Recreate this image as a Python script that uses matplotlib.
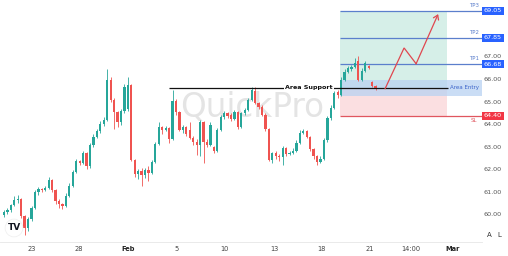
import matplotlib
matplotlib.use("Agg")
import matplotlib.pyplot as plt
import matplotlib.transforms as mtransforms
from matplotlib.patches import Rectangle, FancyArrowPatch

# ---------------- data ----------------
opens = [60.00, 60.13, 60.22, 60.44, 60.66, 60.70, 59.95, 59.40, 59.80, 60.30,
         61.00, 61.15, 61.10, 61.20, 61.55, 61.10, 60.60, 60.50, 60.40, 60.85,
         61.30, 61.90, 62.40, 62.30, 62.75, 62.15, 63.10, 63.45, 63.70, 64.05,
         64.20, 66.00, 65.10, 64.55, 64.10, 64.60, 64.70, 65.75, 62.45, 61.80,
         61.95, 61.75, 62.00, 61.85, 62.35, 63.15, 63.90, 63.75, 63.85, 63.35,
         65.05, 64.55, 63.75, 63.90, 63.75, 63.40, 63.25, 63.10, 64.10, 63.25,
         63.10, 63.00, 62.85, 63.75, 64.35, 64.50, 64.45, 64.25, 64.55, 63.90,
         64.50, 64.65, 65.10, 65.50, 64.95, 64.80, 64.45, 63.80, 62.45, 62.75,
         62.60, 62.55, 62.95, 62.70, 62.75, 62.85, 63.20, 63.65, 63.70, 63.45,
         62.90, 62.60, 62.35, 62.50, 63.30, 64.30, 64.75, 65.45, 65.30, 66.00,
         66.35, 66.45, 66.55, 66.80, 66.00, 66.40, 66.60, 65.90, 65.70]
closes = [60.13, 60.22, 60.44, 60.66, 60.70, 59.95, 59.40, 59.80, 60.30, 61.00,
          61.15, 61.10, 61.20, 61.55, 61.10, 60.60, 60.50, 60.40, 60.85, 61.30,
          61.90, 62.40, 62.30, 62.75, 62.15, 63.10, 63.45, 63.70, 64.05, 64.20,
          66.00, 65.10, 64.55, 64.10, 64.60, 65.65, 65.75, 62.45, 61.80, 61.95,
          61.75, 62.00, 61.85, 62.35, 63.15, 63.90, 63.75, 63.85, 63.35, 65.05,
          64.55, 63.75, 63.90, 63.60, 63.40, 63.25, 63.10, 64.10, 63.25, 63.10,
          64.00, 62.85, 63.75, 64.35, 64.50, 64.40, 64.25, 64.55, 63.90, 64.50,
          64.65, 65.10, 65.55, 64.95, 64.80, 64.45, 63.80, 62.45, 62.75, 62.60,
          62.55, 62.95, 62.70, 62.75, 62.85, 63.20, 63.65, 63.70, 63.45, 62.90,
          62.60, 62.35, 62.50, 63.30, 64.30, 64.75, 65.40, 65.30, 66.00, 66.35,
          66.50, 66.55, 66.75, 66.00, 66.40, 66.75, 66.50, 65.70, 65.60]
highs = [60.20, 60.30, 60.50, 60.85, 60.90, 60.75, 60.00, 59.90, 60.40, 61.10,
         61.25, 61.20, 61.30, 61.70, 61.60, 61.15, 60.70, 60.55, 60.95, 61.40,
         62.00, 62.50, 62.45, 62.85, 62.80, 63.20, 63.60, 63.80, 64.15, 64.35,
         66.45, 66.10, 65.20, 64.60, 64.70, 65.80, 66.10, 65.80, 62.50, 62.05,
         62.10, 62.10, 62.15, 62.45, 63.25, 64.10, 63.95, 63.95, 63.90, 65.55,
         65.15, 64.60, 64.00, 63.95, 64.10, 63.50, 63.35, 64.20, 64.15, 63.35,
         64.10, 63.05, 63.85, 64.45, 64.60, 64.55, 64.50, 64.65, 64.60, 64.55,
         64.75, 65.20, 65.65, 65.65, 65.00, 64.85, 64.50, 63.85, 62.80, 62.85,
         62.70, 63.05, 63.00, 62.85, 62.95, 63.30, 63.75, 63.80, 63.75, 63.50,
         62.95, 62.65, 62.60, 63.40, 64.40, 64.85, 65.50, 65.55, 66.10, 66.45,
         66.60, 66.65, 66.95, 67.05, 66.50, 66.80, 66.65, 65.95, 65.75]
lows = [59.90, 60.05, 60.15, 60.40, 60.55, 59.85, 59.10, 59.30, 59.75, 60.25,
        60.90, 61.00, 61.05, 61.15, 61.00, 60.50, 60.30, 60.25, 60.35, 60.80,
        61.25, 61.85, 62.20, 62.25, 62.05, 62.10, 63.00, 63.40, 63.65, 63.95,
        64.15, 65.00, 63.80, 63.90, 64.00, 64.50, 64.60, 62.40, 61.70, 61.60,
        61.30, 61.65, 61.50, 61.80, 62.30, 63.10, 63.60, 63.70, 63.20, 63.30,
        64.45, 63.70, 63.65, 63.50, 63.35, 63.10, 62.65, 62.60, 62.30, 63.00,
        63.05, 62.75, 62.80, 63.70, 64.25, 64.30, 64.15, 64.20, 63.80, 63.85,
        64.45, 64.60, 65.05, 64.90, 64.70, 64.40, 63.70, 62.40, 62.30, 62.50,
        62.40, 62.20, 62.60, 62.65, 62.70, 62.80, 63.15, 63.60, 63.40, 62.85,
        62.50, 62.20, 62.30, 62.45, 63.25, 64.20, 64.70, 65.20, 65.25, 65.95,
        66.30, 66.40, 66.50, 65.95, 65.95, 66.35, 66.45, 65.65, 65.55]

tick_pos = [8.1, 21.8, 36.0, 50.3, 64.2, 78.5, 92.4, 106.4, 118.3, 130.5]
tick_labels = ["23", "28", "Feb", "5", "10", "13", "18", "21", "14:00", "Mar"]
bold_ticks = ["Feb", "Mar"]
price_ticks = [60, 61, 62, 63, 64, 65, 66, 67]

support_level = 65.63
support_span = [48.0, 129.0]
entry_band = [65.27, 65.98]
position_span = [97.7, 128.8]
tp_levels = [66.68, 67.85, 69.05]
tp_names = ["TP1", "TP2", "TP3"]
sl_level = 64.40
arrow_x = [110.8, 116.3, 119.8, 126.2]
arrow_y = [65.60, 67.40, 66.70, 68.90]

UP = "#26a69a"
DOWN = "#ef5350"
BLUE_LINE = "#5b7fcc"
BLUE_BOX = "#2962ff"
RED_BOX = "#f23645"

# ---------------- figure ----------------
fig = plt.figure(figsize=(5.08, 2.56), dpi=100)
ax = fig.add_axes([0, 14/256, 482/508, 242/256])
XMAX = 138.95
ax.set_xlim(-1.16, XMAX)
ax.set_ylim(58.80, 69.525)

# watermark
ax.text(72, 64.78, "QuickPro", fontsize=23.5, color="#e4e4e4", ha="center",
        va="center", zorder=0, family="DejaVu Sans")

# position tool boxes
x0, x1 = position_span
ax.add_patch(Rectangle((x0, support_level), x1 - x0, tp_levels[-1] - support_level,
                       facecolor="#d6efe8", edgecolor="none", zorder=1))
ax.add_patch(Rectangle((x0, sl_level), x1 - x0, support_level - sl_level,
                       facecolor="#fbdfe1", edgecolor="none", zorder=1))
ax.add_patch(Rectangle((x0, entry_band[0]), XMAX - x0, entry_band[1] - entry_band[0],
                       facecolor="#b9d2f2", alpha=0.75, edgecolor="none", zorder=1.5))

# candles
for i, (o, c, h, l) in enumerate(zip(opens, closes, highs, lows)):
    col = UP if c >= o else DOWN
    ax.vlines(i, l, h, color=col, lw=0.6, zorder=3)
    bot = min(o, c)
    ht = max(abs(c - o), 0.03)
    ax.add_patch(Rectangle((i - 0.33, bot), 0.66, ht, facecolor=col,
                           edgecolor="none", zorder=3))

# TP / SL lines
for lvl, name in zip(tp_levels, tp_names):
    ax.hlines(lvl, x0, XMAX, color=BLUE_LINE, lw=0.9, zorder=2)
    ax.text(138.2, lvl + 0.12, name, fontsize=4.0, color=BLUE_LINE,
            ha="right", va="bottom", zorder=4)
ax.hlines(sl_level, x0, XMAX, color="#e0565f", lw=0.9, zorder=2)
ax.text(137.6, sl_level - 0.12, "SL", fontsize=4.0, color="#e0565f",
        ha="right", va="top", zorder=4)

# support line + label
ax.hlines(support_level, support_span[0], support_span[1], color="#111111",
          lw=0.9, zorder=4)
ax.text(88.7, support_level, "Area Support", fontsize=4.6, fontweight="bold",
        color="#111111", ha="center", va="center", zorder=5,
        bbox=dict(facecolor="white", edgecolor="none", pad=0.6))
ax.text(138.2, sum(entry_band) / 2, "Area Entry", fontsize=4.0, color="#3b63c9",
        ha="right", va="center", zorder=5)

# arrow
ax.plot(arrow_x[:-1], arrow_y[:-1], color="#e0474f", lw=0.9, zorder=5,
        solid_joinstyle="miter")
ax.add_patch(FancyArrowPatch((arrow_x[-2], arrow_y[-2]), (arrow_x[-1], arrow_y[-1]),
                             arrowstyle="->,head_length=3,head_width=2",
                             color="#e0474f", lw=0.9, zorder=5,
                             shrinkA=0, shrinkB=0))

# axes styling
for s in ["top", "left", "right"]:
    ax.spines[s].set_visible(False)
ax.spines["bottom"].set_color("#e6e6e6")
ax.spines["bottom"].set_linewidth(0.6)
ax.set_xticks(tick_pos)
ax.set_xticklabels(tick_labels, fontsize=4.8, color="#444444")
for lab in ax.get_xticklabels():
    if lab.get_text() in bold_ticks:
        lab.set_fontweight("bold")
        lab.set_color("#222222")
ax.tick_params(axis="x", length=0, pad=3)
ax.set_yticks([])

# price scale labels
trans = mtransforms.blended_transform_factory(fig.transFigure, ax.transData)
for p in price_ticks:
    ax.text(493/508, p, f"{p:.2f}", fontsize=4.6, color="#555555",
            ha="center", va="center", transform=trans, clip_on=False)
for lvl in tp_levels:
    ax.text(493/508, lvl, f"{lvl:.2f}", fontsize=4.6, color="white",
            ha="center", va="center", transform=trans, clip_on=False, zorder=6,
            bbox=dict(facecolor=BLUE_BOX, edgecolor="none",
                      boxstyle="square,pad=0.25"))
ax.text(493/508, sl_level, f"{sl_level:.2f}", fontsize=4.6, color="white",
        ha="center", va="center", transform=trans, clip_on=False, zorder=6,
        bbox=dict(facecolor=RED_BOX, edgecolor="none", boxstyle="square,pad=0.25"))

# misc
fig.text(489/508, 1 - 235/256, "A", fontsize=5, color="#333333", ha="center", va="center")
fig.text(499/508, 1 - 235/256, "L", fontsize=5, color="#333333", ha="center", va="center")
fig.text(14/508, 1 - 228/256, "TV", fontsize=6.5, fontweight="bold", color="#131722",
         ha="center", va="center",
         bbox=dict(boxstyle="circle,pad=0.25", facecolor="white", edgecolor="#eeeeee", lw=0.5))

fig.savefig("out.png", dpi=100)
